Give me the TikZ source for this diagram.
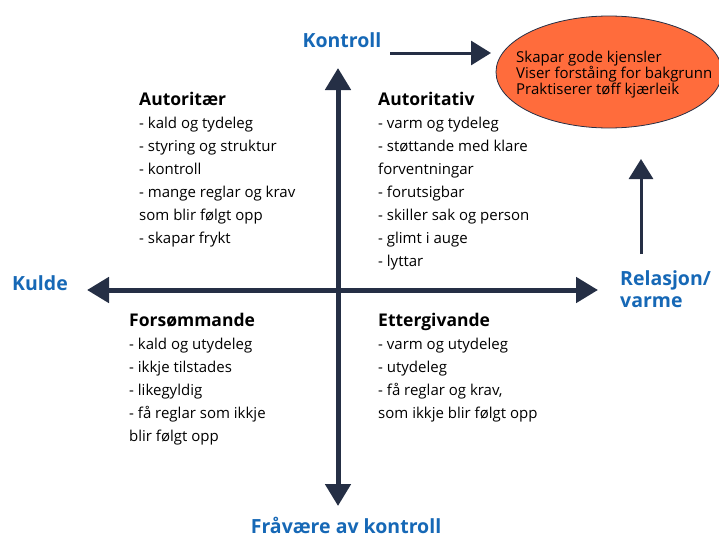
\documentclass[tikz,border=0pt]{standalone}
\usepackage{fontspec}
\setmainfont{Open Sans}
\usepackage{tikz}
\usetikzlibrary{arrows.meta}
\usetikzlibrary{shapes.geometric}

\definecolor{axisblue}{RGB}{37,47,69}
\definecolor{labelblue}{RGB}{22,104,182}
\definecolor{effektorange}{RGB}{255,108,60}

\begin{document}
\begin{tikzpicture}[x=1pt,y=-1pt,
                    axis/.style={draw=axisblue,line width=5pt,-{Triangle[length=22pt,width=25pt]}},
                    pil/.style={draw=axisblue,line width=3pt,-{Triangle[length=20pt,width=24pt]}},
                    axis label/.style={font=\fontsize{19.5}{22}\selectfont\bfseries,text=labelblue,inner sep=0pt},
                    quadrant/.style={font=\fontsize{15}{23}\selectfont,align=left,anchor=north west,inner sep=0pt}]

  \useasboundingbox (0,0) rectangle (719,538);

  % akser
  \coordinate (origo) at (338,290);
  \coordinate (topp) at (338,68);
  \coordinate (botn) at (338,506);
  \coordinate (venstre) at (87,290);
  \coordinate (hogre) at (598,290);

  \node[axis label] (kontroll) at (342,40) {Kontroll};
  \node[axis label,anchor=base] (fravaere) at (346,533) {Fråvære av kontroll};
  \node[axis label,anchor=west] (kulde) at (12,283) {Kulde};
  \node[axis label,anchor=north west,align=left,font=\fontsize{19.5}{22}\selectfont\bfseries]
       (relasjon) at (620,270) {Relasjon/\\varme};

  \node[ellipse,draw=axisblue,line width=0.8pt,fill=effektorange,
        minimum width=226pt,minimum height=112pt,inner sep=0pt] (effekt) at (609,72) {};
  \node[font=\fontsize{15}{16}\selectfont,align=left,anchor=north west,inner sep=0pt]
       (effekttekst) at (516,51) {Skapar gode kjensler\\Viser forståing for bakgrunn\\Praktiserer tøff kjærleik};

  \coordinate (kstart) at (390,53);
  \coordinate (kslutt) at (491,53);
  \coordinate (vstart) at (641,254);
  \coordinate (vslutt) at (641,159);

  \node[quadrant] (autoritaer) at (139,92)
       {\textbf{\fontsize{17.5}{23}\selectfont Autoritær}\\- kald og tydeleg\\- styring og struktur\\- kontroll\\- mange reglar og krav\\som blir følgt opp\\- skapar frykt};
  \node[quadrant] (autoritativ) at (378,92)
       {\textbf{\fontsize{17.5}{23}\selectfont Autoritativ}\\- varm og tydeleg\\- støttande med klare\\forventningar\\- forutsigbar\\- skiller sak og person\\- glimt i auge\\- lyttar};
  \node[quadrant] (forsommande) at (129,313)
       {\textbf{\fontsize{17.5}{23}\selectfont Forsømmande}\\- kald og utydeleg\\- ikkje tilstades\\- likegyldig\\- få reglar som ikkje\\blir følgt opp};
  \node[quadrant] (ettergivande) at (378,313)
       {\textbf{\fontsize{17.5}{23}\selectfont Ettergivande}\\- varm og utydeleg\\- utydeleg\\- få reglar og krav,\\som ikkje blir følgt opp};

  \draw[axis] (origo) -- (topp);
  \draw[axis] (origo) -- (botn);
  \draw[axis] (origo) -- (venstre);
  \draw[axis] (origo) -- (hogre);
  \draw[pil] (kstart) -- (kslutt);
  \draw[pil] (vstart) -- (vslutt);

\end{tikzpicture}
\end{document}
